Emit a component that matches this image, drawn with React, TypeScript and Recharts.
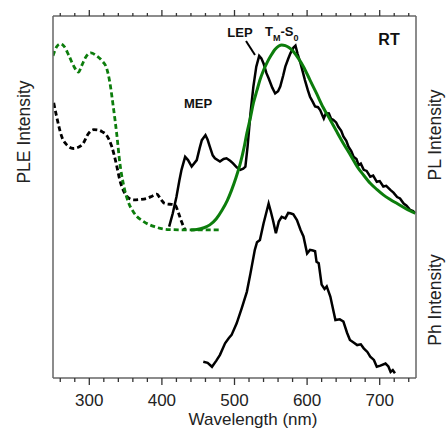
import React from 'react';
import { ComposedChart, Line, XAxis, YAxis } from 'recharts';

// [wavelength nm, intensity a.u.]
const pleGreen = [
  [250, 89], [255, 91.5], [260, 92.3], [265, 91.7], [272, 89], [279, 86], [285, 84.5],
  [290, 86.5], [295, 88.6], [302, 89.8], [310, 89], [318, 87.5], [324, 85.5], [328, 82],
  [333, 75], [338, 67], [342, 59.5], [347, 53.5], [354, 48.5], [362, 45.5], [375, 43.2],
  [390, 41.8], [410, 41], [440, 40.9], [480, 40.9],
];

const pleBlack = [
  [251, 76], [255, 72.2], [262, 66.7], [269, 64.4], [278, 63.4], [290, 64.4], [299, 67.6],
  [306, 68.6], [312, 68.5], [318, 68], [324, 67], [331, 63.9], [338, 58.4], [342, 54.7],
  [349, 51], [355, 49.6], [361, 49.2], [370, 49.3], [379, 49.6], [387, 50.3], [393, 50.8],
  [398, 49.5], [404, 48.2], [418, 47.8], [423, 45.5], [427, 43.2], [432, 40.9],
];

const plBlack = [
  [410, 41.8], [415, 45.5], [420, 50], [424, 54.5], [427, 57.5], [432, 61.1], [436, 60.2],
  [441, 58.4], [448, 60.2], [452, 63.5], [455, 65.7], [460, 67.1], [463, 65.8], [466, 63.9],
  [470, 61.5], [473, 60.7], [480, 59.8], [485, 60.5], [489, 60.7], [494, 60], [498, 59.3],
  [503, 58.2], [508, 57.5], [512, 57.8], [515, 58.4], [518, 63.9], [522, 73.1], [526, 80.5],
  [530, 86], [534, 89], [537, 88.3], [540, 86.9], [544, 84.2], [547, 82.8], [552, 80.2],
  [556, 78.6], [560, 79.2], [563, 80.5], [567, 83.5], [570, 86], [574, 88.2], [577, 89.7],
  [581, 91.2], [584, 91.8], [587, 89.5], [591, 86.9], [597, 82.3], [601, 79.5], [604, 77.7],
  [608, 76.2], [611, 75], [615, 74.8], [618, 74], [621, 72.6], [623, 71.7], [626, 73.2],
  [630, 73.1], [633, 71.6], [636, 71.3], [640, 70.6], [643, 69.4], [647, 68.3], [650, 66.7],
  [654, 65.5], [657, 63.9], [661, 62.6], [664, 61.1], [668, 60.5], [671, 58.8], [674, 59.2],
  [678, 57.5], [682, 57.2], [687, 55.6], [691, 55.9], [696, 54.2], [700, 54.4], [705, 52.9],
  [709, 53.1], [715, 51.9], [719, 51.2], [724, 50], [728, 49.6], [733, 48.2], [737, 47.6],
  [742, 46.4], [746, 46.1], [749, 45.5],
];

const plGreen = [
  [440, 40.9], [448, 41], [458, 41.5], [466, 42.3], [475, 44], [483, 46.4], [490, 49],
  [496, 51.9], [502, 55.3], [508, 59.3], [513, 63.5], [517, 67.6], [522, 72], [526, 75.9],
  [531, 79.5], [535, 82.3], [540, 85], [545, 87.2], [550, 89], [556, 90.8], [561, 91.7],
  [565, 92], [570, 91.8], [575, 91.3], [581, 90.2], [588, 88.3], [595, 86], [604, 82.3],
  [613, 78.6], [622, 74.8], [632, 71.3], [641, 68], [650, 64.8], [660, 61.5], [669, 58.4],
  [678, 56], [687, 53.8], [696, 52.1], [705, 50.6], [714, 49.4], [724, 48.2], [736, 46.8],
  [749, 45.5],
];

const phBlack = [
  [457, 4.5], [463, 4.2], [469, 3.1], [475, 4.8], [480, 6.4], [487, 9.6], [492, 11],
  [496, 11.9], [503, 15.1], [510, 19.3], [517, 23.8], [522, 28.9], [528, 35.4], [531, 37.5],
  [535, 38.1], [540, 42.7], [547, 48.2], [550, 46], [553, 43.6], [557, 40], [561, 43.2],
  [565, 44.5], [570, 44.1], [574, 45.6], [577, 45.5], [581, 45.2], [586, 43.6], [591, 40.9],
  [595, 39.1], [600, 34.4], [604, 35.4], [608, 35.2], [611, 35], [613, 32.1], [616, 31.7],
  [620, 25.8], [624, 24.6], [627, 25.3], [632, 22.5], [639, 16], [645, 16.2], [650, 15.6],
  [655, 12.5], [659, 10.5], [664, 9.8], [669, 9.1], [674, 9.3], [678, 8.2], [683, 7.2],
  [687, 5.9], [692, 5], [696, 3.1], [701, 3.4], [708, 4], [712, 3.2], [715, 1.7], [718, 2.2],
  [721, 1.3],
];

const xTicks = [260, 280, 300, 320, 340, 360, 380, 400, 420, 440, 460, 480, 500, 520, 540, 560, 580, 600, 620, 640, 660, 680, 700, 720, 740];

const toRows = (pts: number[][]) => pts.map(([x, y]) => ({ x, y }));

const GREEN = '#0c7d0c';
const FONT = '"Liberation Sans", Arial, sans-serif';

const BottomTick = (props: any) => {
  const { x, y, payload } = props;
  const major = payload.value % 100 === 0;
  return (
    <g>
      <line x1={x} x2={x} y1={y} y2={y + (major ? 7 : 4)} stroke="#333" strokeWidth={1.3} />
      {major && (
        <text x={x} y={y + 28} textAnchor="middle" fontSize={17} fontFamily={FONT} fill="#222">
          {payload.value}
        </text>
      )}
    </g>
  );
};

const TopTick = (props: any) => {
  const { x, y, payload } = props;
  const major = payload.value % 100 === 0;
  return <line x1={x} x2={x} y1={y} y2={y - (major ? 6 : 3)} stroke="#333" strokeWidth={1.3} />;
};

export default function App() {
  return (
    <div style={{ position: 'absolute', left: 0, top: 0, width: 446, height: 429, background: '#fff' }}>
      <ComposedChart width={446} height={429} margin={{ top: 0, right: 0, bottom: 21, left: 0 }}>
        <XAxis
          xAxisId="bottom"
          dataKey="x"
          type="number"
          domain={[250, 750]}
          ticks={xTicks}
          allowDataOverflow
          height={30}
          tickSize={0}
          tickMargin={0}
          tickLine={false}
          tick={<BottomTick />}
          axisLine={{ stroke: '#666', strokeWidth: 1.5 }}
          interval={0}
        />
        <XAxis
          xAxisId="top"
          orientation="top"
          dataKey="x"
          type="number"
          domain={[250, 750]}
          ticks={xTicks}
          allowDataOverflow
          height={16}
          tickSize={0}
          tickMargin={0}
          tickLine={false}
          tick={<TopTick />}
          axisLine={{ stroke: '#666', strokeWidth: 1.5 }}
          interval={0}
        />
        <YAxis
          yAxisId="left"
          type="number"
          domain={[0, 100]}
          width={53}
          tick={false}
          tickLine={false}
          axisLine={{ stroke: '#666', strokeWidth: 1.5 }}
        />
        <YAxis
          yAxisId="right"
          orientation="right"
          type="number"
          domain={[0, 100]}
          width={30}
          tick={false}
          tickLine={false}
          axisLine={{ stroke: '#666', strokeWidth: 1.5 }}
        />
        <Line xAxisId="bottom" yAxisId="left" data={toRows(pleBlack)} dataKey="y" type="monotone"
          stroke="#000" strokeWidth={2.8} strokeDasharray="5 3" dot={false} isAnimationActive={false} />
        <Line xAxisId="bottom" yAxisId="left" data={toRows(pleGreen)} dataKey="y" type="monotone"
          stroke={GREEN} strokeWidth={2.8} strokeDasharray="5 3" dot={false} isAnimationActive={false} />
        <Line xAxisId="bottom" yAxisId="left" data={toRows(plBlack)} dataKey="y" type="linear"
          stroke="#000" strokeWidth={2.5} dot={false} isAnimationActive={false} />
        <Line xAxisId="bottom" yAxisId="left" data={toRows(plGreen)} dataKey="y" type="monotone"
          stroke={GREEN} strokeWidth={3} dot={false} isAnimationActive={false} />
        <Line xAxisId="bottom" yAxisId="left" data={toRows(phBlack)} dataKey="y" type="linear"
          stroke="#000" strokeWidth={2.5} dot={false} isAnimationActive={false} />
      </ComposedChart>

      {/* labels and annotations */}
      <svg width={446} height={429} style={{ position: 'absolute', left: 0, top: 0, pointerEvents: 'none' }} fontFamily={FONT}>
        <text x={253} y={425} textAnchor="middle" fontSize={17} fill="#222">Wavelength (nm)</text>
        <text x={29.5} y={132} textAnchor="middle" fontSize={17.5} fill="#222" transform="rotate(-90, 29.5, 132)">PLE Intensity</text>
        <text x={440.5} y={135} textAnchor="middle" fontSize={17.5} fill="#222" transform="rotate(-90, 440.5, 135)">PL Intensity</text>
        <text x={440.5} y={300} textAnchor="middle" fontSize={17.5} fill="#222" transform="rotate(-90, 440.5, 300)">Ph Intensity</text>

        <text x={198} y={108} textAnchor="middle" fontSize={13} fontWeight="bold" fill="#111">MEP</text>
        <text x={240} y={37} textAnchor="middle" fontSize={13} fontWeight="bold" fill="#111">LEP</text>
        <line x1={246} y1={41} x2={255} y2={55} stroke="#000" strokeWidth={2} />
        <text x={265} y={36} fontSize={13} fontWeight="bold" fill="#111">
          T<tspan fontSize={9} dy={5}>M</tspan><tspan dy={-5}>-S</tspan><tspan fontSize={9} dy={5}>0</tspan>
        </text>
        <text x={389} y={45} textAnchor="middle" fontSize={16} fontWeight="bold" fill="#111">RT</text>
      </svg>
    </div>
  );
}
